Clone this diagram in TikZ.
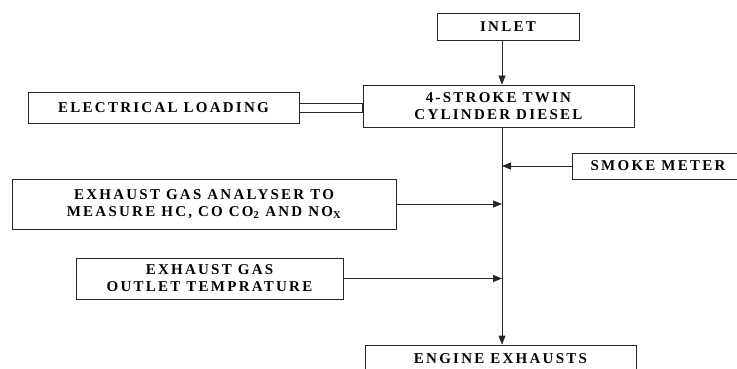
\documentclass[tikz,border=0pt]{standalone}
\usepackage{fontspec}
\setmainfont{Liberation Serif}
\usetikzlibrary{arrows.meta}

\tikzset{
  box/.style={draw=black!85, line width=0.8pt, align=center, inner sep=0pt,
    font=\fontsize{15}{17}\selectfont\bfseries\addfontfeatures{LetterSpace=15}},
  feed/.style={draw=black!85, line width=0.8pt, -{Triangle[length=9pt,width=7pt]}}
}

\begin{document}
\begin{tikzpicture}[x=1pt,y=-1pt]

		\useasboundingbox (0,0) rectangle (737,369);
		\clip (0,0) rectangle (737,369);

		\node[box, minimum width=142pt, minimum height=27pt] (inlet) at (508,26.5) {INLET};
		\node[box, minimum width=271pt, minimum height=42pt] (engine) at (498.5,106) {4-STROKE TWIN\\CYLINDER DIESEL};
		\node[box, minimum width=271pt, minimum height=31pt] (load) at (163.5,107.5) {ELECTRICAL LOADING};
		\node[box, minimum width=172pt, minimum height=26pt] (smoke) at (658,166) {SMOKE METER};
		\node[box, minimum width=384pt, minimum height=50pt] (analyser) at (204,204) {EXHAUST GAS ANALYSER TO\\MEASURE HC, CO CO\textsubscript{2} AND NO\textsubscript{X}};
		\node[box, minimum width=267pt, minimum height=41pt] (outlet) at (209.5,278.5) {EXHAUST GAS\\OUTLET TEMPRATURE};
		\node[box, minimum width=271pt, minimum height=28pt] (exhaust) at (500.5,359) {ENGINE EXHAUSTS};

		\coordinate (trunk) at (502,0);
		\coordinate (plug) at (engine.west |- load.east);

		\draw[feed] (inlet.south -| trunk) -- (engine.north -| trunk);
		\draw[feed] (engine.south -| trunk) -- (exhaust.north -| trunk);

		\foreach \source in {smoke.west, analyser.east, outlet.east}
		\draw[feed] (\source) -- (\source -| trunk);

		\draw[draw=black!85, line width=0.8pt] ([yshift=4.5pt]load.east) rectangle ([yshift=-4.5pt]plug);

	\end{tikzpicture}
\end{document}
